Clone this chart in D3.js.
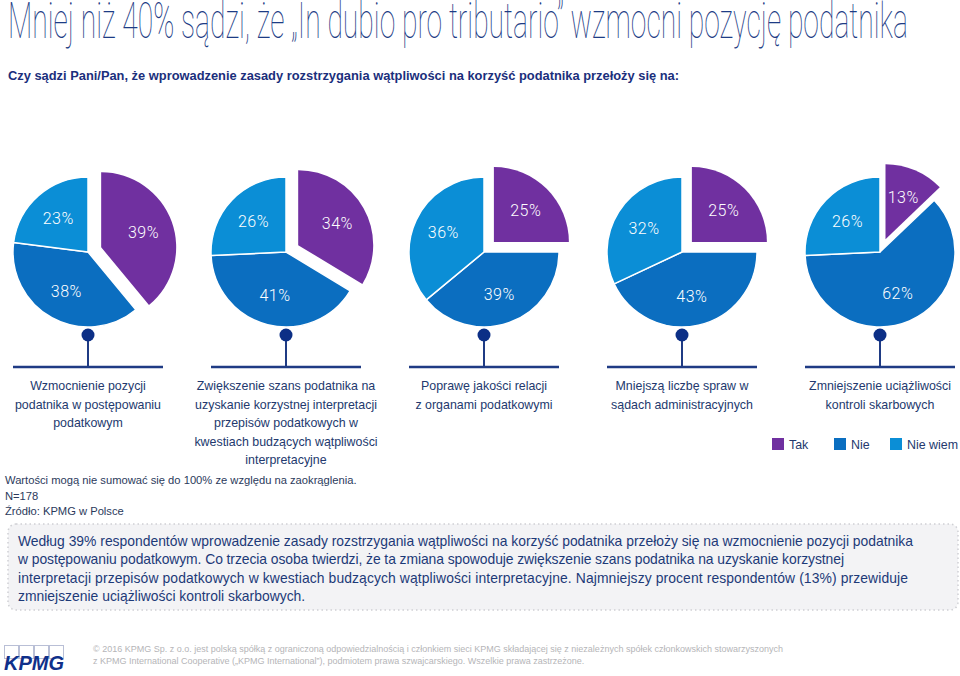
<!DOCTYPE html>
<html><head><meta charset="utf-8">
<script src="https://cdn.jsdelivr.net/npm/d3@7"></script>
<style>
html,body{margin:0;padding:0;background:#fff;}
svg{display:block;}
</style></head>
<body>
<svg id="chart" width="960" height="676"></svg>
<script>
const title = "Mniej niż 40% sądzi, że „In dubio pro tributario” wzmocni pozycję podatnika";
const subtitle = "Czy sądzi Pani/Pan, że wprowadzenie zasady rozstrzygania wątpliwości na korzyść podatnika przełoży się na:";
const categories = [
  ["Wzmocnienie pozycji","podatnika w postępowaniu","podatkowym"],
  ["Zwiększenie szans podatnika na","uzyskanie korzystnej interpretacji","przepisów podatkowych w","kwestiach budzących wątpliwości","interpretacyjne"],
  ["Poprawę jakości relacji","z organami podatkowymi"],
  ["Mniejszą liczbę spraw w","sądach administracyjnych"],
  ["Zmniejszenie uciążliwości","kontroli skarbowych"]
];
const seriesNames = ["Tak","Nie","Nie wiem"];
const tak = [39,34,25,25,13];
const nie = [38,41,39,43,62];
const nieWiem = [23,26,36,32,26];
const colors = ["#7030a0","#0b6ec0","#0b8ed6"];
const notes = ["Wartości mogą nie sumować się do 100% ze względu na zaokrąglenia.","N=178","Źródło: KPMG w Polsce"];
const summary = [
  "Według 39% respondentów wprowadzenie zasady rozstrzygania wątpliwości na korzyść podatnika przełoży się na wzmocnienie pozycji podatnika",
  "w postępowaniu podatkowym. Co trzecia osoba twierdzi, że ta zmiana spowoduje zwiększenie szans podatnika na uzyskanie korzystnej",
  "interpretacji przepisów podatkowych w kwestiach budzących wątpliwości interpretacyjne. Najmniejszy procent respondentów (13%) przewiduje",
  "zmniejszenie uciążliwości kontroli skarbowych."
];
const footer = [
  "© 2016 KPMG Sp. z o.o. jest polską spółką z ograniczoną odpowiedzialnością i członkiem sieci KPMG składającej się z niezależnych spółek członkowskich stowarzyszonych",
  "z KPMG International Cooperative („KPMG International”), podmiotem prawa szwajcarskiego. Wszelkie prawa zastrzeżone."
];

const svg = d3.select("#chart");
const navy = "#0c2f86";
const textBlue = "#23396e";
const sans = "'Liberation Sans', Arial, sans-serif";

// Title (condensed by horizontal scaling to the reference width)
const tg = svg.append("g").attr("opacity",0.995);
const tt = tg.append("text").attr("x",0).attr("y",0)
  .attr("font-family","Roboto, sans-serif").attr("font-weight",100)
  .attr("font-size",50).attr("fill","#1d3c85")
  .text(title);
const tw = tt.node().getComputedTextLength();
tg.attr("transform",`translate(8,38) scale(${900/tw},1)`);

svg.append("text").attr("x",8).attr("y",80)
  .attr("font-family",sans).attr("font-weight","bold")
  .attr("font-size",13.2).attr("fill","#1b2f7c")
  .attr("textLength",671).attr("lengthAdjust","spacingAndGlyphs")
  .text(subtitle);

// Pies
const x = d3.scalePoint().domain(d3.range(categories.length)).range([88,880]);
const r = 75, cy = 252, explode = 14;
const pie = d3.pie().sort(null).value(d=>d.v);
const arc = d3.arc().innerRadius(0).outerRadius(r);
const labelArc = d3.arc().innerRadius(r*1.2).outerRadius(0);

categories.forEach((cat,i)=>{
  const data = [{k:0,v:tak[i]},{k:1,v:nie[i]},{k:2,v:nieWiem[i]}];
  const arcs = pie(data);
  const g = svg.append("g").attr("transform",`translate(${x(i)},${cy})`);
  arcs.forEach(a=>{
    const mid = (a.startAngle+a.endAngle)/2;
    const off = a.data.k===0 ? explode : 0;
    const dx = Math.sin(mid)*off, dy = -Math.cos(mid)*off;
    const sg = g.append("g").attr("transform",`translate(${dx},${dy})`);
    sg.append("path").attr("d",arc(a)).attr("fill",colors[a.data.k])
      .attr("stroke","#fff").attr("stroke-width",a.data.k===0?0:1.5).attr("stroke-linejoin","round");
    const c = labelArc.centroid(a);
    sg.append("text").attr("x",c[0]).attr("y",c[1]).attr("dy","0.35em")
      .attr("text-anchor","middle").attr("fill","#fff")
      .attr("font-family","Roboto, sans-serif").attr("font-weight",300)
      .attr("font-size",16).attr("letter-spacing",0.5)
      .text(a.data.v+"%");
  });
  svg.append("line").attr("x1",x(i)).attr("x2",x(i)).attr("y1",335).attr("y2",367)
    .attr("stroke","#1f3b84").attr("stroke-width",2);
  svg.append("line").attr("x1",x(i)-75).attr("x2",x(i)+75).attr("y1",367).attr("y2",367)
    .attr("stroke","#1f3b84").attr("stroke-width",2.5);
  svg.append("circle").attr("cx",x(i)).attr("cy",335).attr("r",6.5).attr("fill",navy);
  const t = svg.append("text").attr("text-anchor","middle")
    .attr("font-family",sans).attr("font-size",12.4).attr("fill",textBlue);
  cat.forEach((line,j)=>{
    t.append("tspan").attr("x",x(i)).attr("y",390+j*18.6).text(line);
  });
});

// Legend
const legX = [772,834,890];
seriesNames.forEach((s,i)=>{
  svg.append("rect").attr("x",legX[i]).attr("y",438).attr("width",12).attr("height",12).attr("fill",colors[i]);
  svg.append("text").attr("x",legX[i]+17).attr("y",449)
    .attr("font-family",sans).attr("font-size",12.4).attr("fill",textBlue).text(s);
});

// Notes
notes.forEach((n,i)=>{
  svg.append("text").attr("x",5).attr("y",484+i*15.5)
    .attr("font-family",sans).attr("font-size",11.2).attr("fill","#2b3a5c").text(n);
});

// Summary box
svg.append("rect").attr("x",8).attr("y",524).attr("width",950).attr("height",86).attr("rx",8)
  .attr("fill","#f3f3f5").attr("stroke","#cfd0d4").attr("stroke-width",1.5).attr("stroke-dasharray","1.5 3");
summary.forEach((s,i)=>{
  const st = svg.append("text").attr("x",18).attr("y",546+i*18.3)
    .attr("font-family",sans).attr("font-size",13.9).attr("fill","#1d3a78").text(s);
  if(i<3) st.attr("textLength",[895,826,890][i]).attr("lengthAdjust","spacing");
});

// KPMG logo
const logo = svg.append("g").attr("transform","translate(4,645)");
for(let k=0;k<4;k++){
  logo.append("rect").attr("x",k*15+0.5).attr("y",0.5).attr("width",14).attr("height",13)
    .attr("fill","none").attr("stroke","#b9bfd6").attr("stroke-width",1);
}
logo.append("text").attr("x",0).attr("y",25).attr("font-family",sans).attr("font-weight","bold")
  .attr("font-style","italic").attr("font-size",20).attr("fill","#10308a")
  .attr("textLength",60).attr("lengthAdjust","spacingAndGlyphs").text("KPMG");

footer.forEach((f,i)=>{
  svg.append("text").attr("x",93).attr("y",652+i*12)
    .attr("font-family",sans).attr("font-size",9).attr("fill","#b5b5b8").text(f);
});
</script>
</body></html>
